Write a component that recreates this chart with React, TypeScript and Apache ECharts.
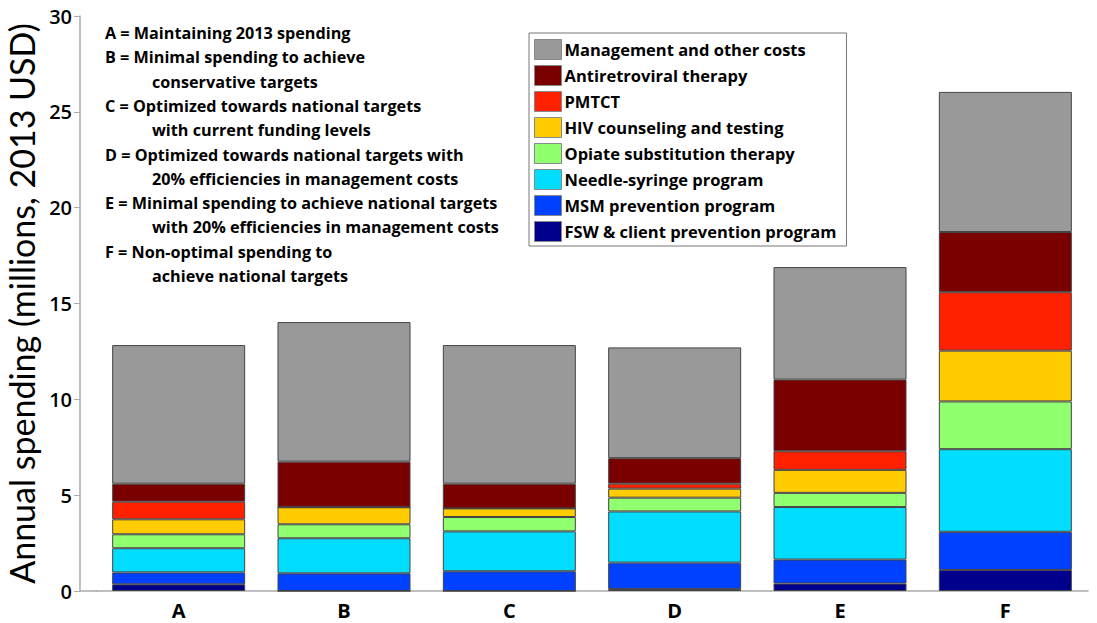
import React, { useEffect, useRef } from "react";
import * as echarts from "echarts";

const categories = ["A", "B", "C", "D", "E", "F"];
const fsw = [0.35, 0, 0, 0.1, 0.39, 1.1];
const msm = [0.62, 0.92, 1.03, 1.38, 1.25, 1.99];
const nsp = [1.26, 1.83, 2.08, 2.67, 2.74, 4.31];
const ost = [0.73, 0.73, 0.75, 0.72, 0.74, 2.49];
const hct = [0.78, 0.89, 0.45, 0.47, 1.2, 2.65];
const pmtct = [0.92, 0, 0, 0.26, 0.97, 3.05];
const art = [0.94, 2.38, 1.29, 1.33, 3.74, 3.14];
const mgmt = [7.23, 7.28, 7.23, 5.78, 5.87, 7.31];

const seriesNames = [
  "FSW & client prevention program",
  "MSM prevention program",
  "Needle-syringe program",
  "Opiate substitution therapy",
  "HIV counseling and testing",
  "PMTCT",
  "Antiretroviral therapy",
  "Management and other costs",
];
const seriesData = [fsw, msm, nsp, ost, hct, pmtct, art, mgmt];
const seriesColors = ["#00008c", "#0040ff", "#00ddff", "#90ff70", "#ffcc00", "#ff2000", "#7a0000", "#999999"];

// [text, isContinuationLine]
const annotations: [string, boolean][] = [
  ["A = Maintaining 2013 spending", false],
  ["B = Minimal spending to achieve", false],
  ["conservative targets", true],
  ["C = Optimized towards national targets", false],
  ["with current funding levels", true],
  ["D = Optimized towards national targets with", false],
  ["20% efficiencies in management costs", true],
  ["E = Minimal spending to achieve national targets", false],
  ["with 20% efficiencies in management costs", true],
  ["F = Non-optimal spending to", false],
  ["achieve national targets", true],
];

export default function App() {
  const ref = useRef<HTMLDivElement>(null);
  useEffect(() => {
    if (!ref.current) return;
    const chart = echarts.init(ref.current, null, { renderer: "svg" });
    const font = "'Open Sans'";
    chart.setOption({
      animation: false,
      backgroundColor: "#ffffff",
      grid: { left: 96, right: 9, top: 16, bottom: 32, outerBoundsMode: "none", containLabel: false },
      legend: {
        orient: "vertical",
        left: 529,
        top: 33,
        data: seriesNames.slice().reverse(),
        icon: "rect",
        itemWidth: 27,
        itemHeight: 20,
        itemGap: 5,
        padding: [6, 10, 4, 5],
        borderColor: "#777",
        borderWidth: 1,
        borderRadius: 0,
        backgroundColor: "#fff",
        itemStyle: { borderColor: "#888", borderWidth: 1 },
        textStyle: {
          fontFamily: font,
          fontWeight: "bold",
          fontSize: 16.5,
          lineHeight: 20,
          color: "#000",
          padding: [0, 0, 0, -2],
        },
      },
      xAxis: {
        type: "category",
        data: categories,
        axisLine: { lineStyle: { color: "#aaaaaa", width: 1.5 } },
        axisTick: { alignWithLabel: true, length: 5, lineStyle: { color: "#888" } },
        axisLabel: { fontFamily: font, fontWeight: "bold", fontSize: 20, color: "#000", margin: 9 },
      },
      yAxis: {
        type: "value",
        min: 0,
        max: 30,
        interval: 5,
        offset: 16,
        name: "Annual spending (millions, 2013 USD)",
        nameLocation: "middle",
        nameGap: 31,
        nameTextStyle: { fontFamily: "Lato", fontSize: 34, color: "#000" },
        axisLine: { show: true, lineStyle: { color: "#aaaaaa", width: 1.5 } },
        axisTick: { show: true, length: 6, lineStyle: { color: "#aaaaaa" } },
        axisLabel: { fontFamily: font, fontWeight: 600, fontSize: 20, color: "#000", margin: 8 },
        splitLine: { show: false },
      },
      graphic: [
        {
          type: "line",
          shape: { x1: 80, y1: 591, x2: 97, y2: 591 },
          style: { stroke: "#aaaaaa", lineWidth: 1.5 },
        },
        ...annotations.map(([t, cont], i) => ({
          type: "text",
          x: cont ? 152 : 105,
          y: 33 + i * 24.3,
          style: {
            text: t,
            font: `bold 16.2px ${font}`,
            fill: "#000",
            verticalAlign: "middle",
          },
        })),
      ],
      series: seriesNames.map((name, i) => ({
        name,
        type: "bar",
        stack: "total",
        barWidth: 133,
        data: seriesData[i],
        itemStyle: { color: seriesColors[i], borderColor: "#444", borderWidth: 1 },
      })),
    });
    return () => chart.dispose();
  }, []);
  return <div ref={ref} style={{ position: "fixed", left: 0, top: 0, width: 1097, height: 623 }} />;
}
